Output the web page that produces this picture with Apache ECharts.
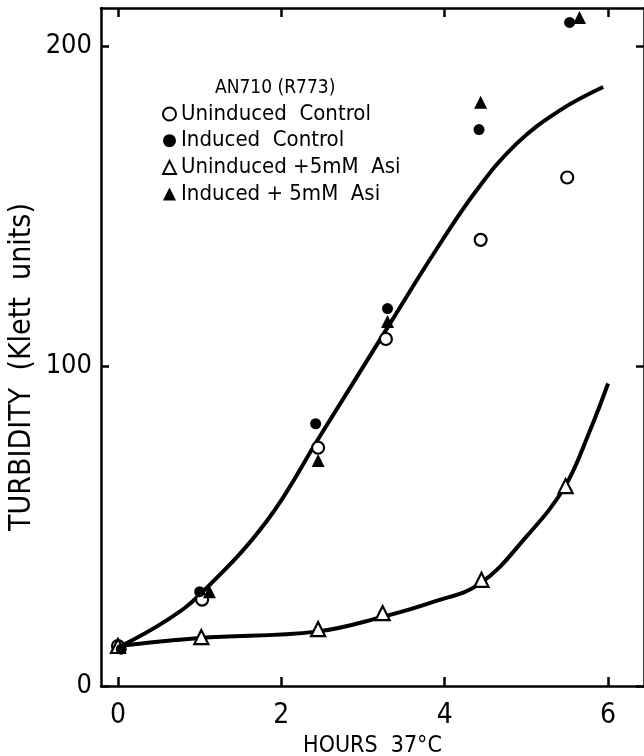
<!DOCTYPE html>
<html>
<head>
<meta charset="utf-8">
<script src="https://cdn.jsdelivr.net/npm/echarts@6/dist/echarts.min.js"></script>
<style>
  html, body { margin: 0; padding: 0; background: #fff; }
  #chart { width: 644px; height: 756px; }
</style>
</head>
<body>
<div id="chart"></div>
<script>
// measured points, [hours, klett units]
const uninducedControl = [[0, 12.5], [1.03, 27], [2.45, 74.5], [3.28, 108.5], [4.44, 139.5], [5.5, 159]];
const inducedControl = [[0.04, 11.5], [1.0, 29.5], [2.42, 82], [3.3, 118], [4.42, 174], [5.53, 207.5]];
const uninducedAsi = [[0, 12.5], [1.02, 15.3], [2.45, 17.8], [3.24, 22.8], [4.45, 33.2], [5.48, 62.5]];
const inducedAsi = [[1.12, 29.5], [2.45, 70.5], [3.3, 114], [4.44, 182.5], [5.65, 209]];

// hand-drawn curves
const upperCurve = [[0, 12], [0.6, 20.6], [1.02, 29], [1.82, 51.5], [2.47, 78], [3.33, 113.3], [3.86, 135], [4.39, 155], [4.88, 169.6], [5.41, 180], [5.94, 187.3]];
const lowerCurve = [[0, 12.5], [1.0, 15], [2.43, 17], [3.25, 21.7], [3.86, 26.3], [4.43, 32], [5.0, 46.7], [5.47, 62.3], [5.78, 80], [6.0, 94.6]];

const xTicks = [0, 2, 4, 6];
const yTicks = [0, 100, 200];
const legendTitle = 'AN710 (R773)';
const xName = 'HOURS  37°C';
const yName = 'TURBIDITY  (Klett  units)';

const FONT = '"DejaVu Sans Condensed", "Liberation Sans Narrow", "Noto Sans", sans-serif';

const chart = echarts.init(document.getElementById('chart'));

const axisLine = { show: true, onZero: false, lineStyle: { color: '#000', width: 2.5 } };
const tickStyle = { color: '#000', width: 2.5 };

const option = {
  backgroundColor: '#fff',
  animation: false,
  title: {
    text: legendTitle,
    left: 210,
    top: 74,
    textStyle: { fontFamily: FONT, fontSize: 19, fontWeight: 'normal', color: '#000' }
  },
  legend: {
    orient: 'vertical',
    left: 157,
    top: 98,
    itemGap: 4.7,
    itemWidth: 13,
    itemHeight: 13,
    textStyle: { fontFamily: FONT, fontSize: 22, color: '#000' },
    data: [
      { name: 'Uninduced  Control', icon: 'circle' },
      { name: 'Induced  Control', icon: 'circle' },
      { name: 'Uninduced +5mM  Asi', icon: 'triangle' },
      { name: 'Induced + 5mM  Asi', icon: 'triangle' }
    ]
  },
  graphic: [{
    type: 'text',
    x: 22,
    y: 367,
    rotation: Math.PI / 2,
    style: {
      text: yName,
      fontFamily: FONT,
      fontSize: 30,
      fill: '#000',
      align: 'center',
      verticalAlign: 'middle'
    }
  }],
  grid: { left: 101, right: 0, top: 8, bottom: 70, outerBoundsMode: 'none' },
  xAxis: [{
    type: 'value',
    min: -0.208,
    max: 6.44,
    name: xName,
    nameLocation: 'middle',
    nameGap: 42,
    nameTextStyle: { fontFamily: FONT, fontSize: 23, color: '#000' },
    axisLine: axisLine,
    axisTick: { show: true, inside: true, length: 9, customValues: xTicks, lineStyle: tickStyle },
    axisLabel: { customValues: xTicks, margin: 16, fontFamily: FONT, fontSize: 28, color: '#000' },
    splitLine: { show: false }
  }, {
    type: 'value',
    position: 'top',
    min: -0.208,
    max: 6.44,
    axisLine: axisLine,
    axisTick: { show: true, inside: true, length: 9, customValues: xTicks, lineStyle: tickStyle },
    axisLabel: { show: false },
    splitLine: { show: false }
  }],
  yAxis: [{
    type: 'value',
    min: 0,
    max: 212,
    axisLine: axisLine,
    axisTick: { show: true, inside: true, length: 8, customValues: yTicks, lineStyle: tickStyle },
    axisLabel: { customValues: yTicks, margin: 9, fontFamily: FONT, fontSize: 27, color: '#000' },
    splitLine: { show: false }
  }, {
    type: 'value',
    position: 'right',
    min: 0,
    max: 212,
    axisLine: axisLine,
    axisTick: { show: true, inside: true, length: 8, customValues: yTicks, lineStyle: tickStyle },
    axisLabel: { show: false },
    splitLine: { show: false }
  }],
  series: [
    {
      type: 'line', data: upperCurve, smooth: 0.4, showSymbol: false, z: 1,
      lineStyle: { color: '#000', width: 4 }, silent: true
    },
    {
      type: 'line', data: lowerCurve, smooth: 0.4, showSymbol: false, z: 1,
      lineStyle: { color: '#000', width: 4 }, silent: true
    },
    {
      name: 'Uninduced  Control', type: 'scatter', data: uninducedControl, z: 3,
      symbol: 'circle', symbolSize: 12,
      itemStyle: { color: '#fff', borderColor: '#000', borderWidth: 2.2, opacity: 1 }
    },
    {
      name: 'Induced  Control', type: 'scatter', data: inducedControl, z: 4,
      symbol: 'circle', symbolSize: 11,
      itemStyle: { color: '#000', opacity: 1 }
    },
    {
      name: 'Uninduced +5mM  Asi', type: 'scatter', data: uninducedAsi, z: 3,
      symbol: 'triangle', symbolSize: 14,
      itemStyle: { color: '#fff', borderColor: '#000', borderWidth: 2.2, opacity: 1 }
    },
    {
      name: 'Induced + 5mM  Asi', type: 'scatter', data: inducedAsi, z: 4,
      symbol: 'triangle', symbolSize: 13,
      itemStyle: { color: '#000', opacity: 1 }
    }
  ]
};

chart.setOption(option);
</script>
</body>
</html>
